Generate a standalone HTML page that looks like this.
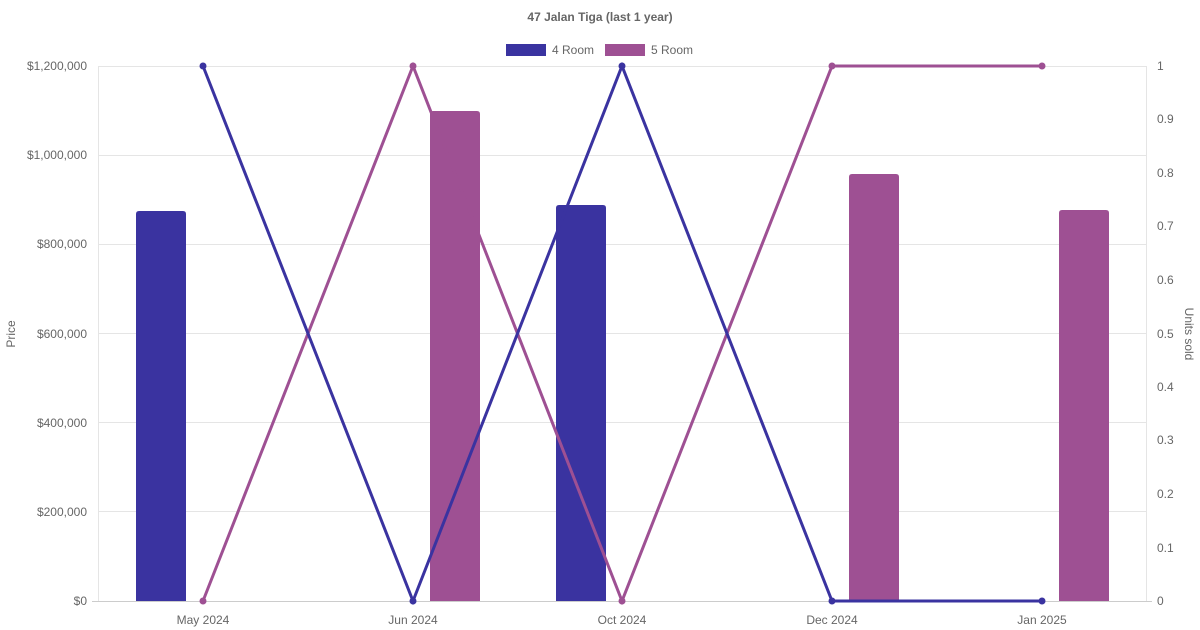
<!DOCTYPE html>
<html><head><meta charset="utf-8"><style>
html,body{margin:0;padding:0;background:#fff;}
svg{display:block;font-family:"Liberation Sans",sans-serif;}
</style></head><body>
<svg width="1200" height="630" viewBox="0 0 1200 630" xmlns="http://www.w3.org/2000/svg">
<text x="600" y="21" text-anchor="middle" font-size="12" font-weight="bold" fill="#666">47 Jalan Tiga (last 1 year)</text>
<rect x="506" y="44" width="40" height="12" fill="#3a33a0"/>
<text x="552" y="54" font-size="12" fill="#666">4 Room</text>
<rect x="605" y="44" width="40" height="12" fill="#9e5093"/>
<text x="651" y="54" font-size="12" fill="#666">5 Room</text>
<g stroke="#e5e5e5" stroke-width="1">
<line x1="98" y1="66.5" x2="1147" y2="66.5"/>
<line x1="98" y1="155.5" x2="1147" y2="155.5"/>
<line x1="98" y1="244.5" x2="1147" y2="244.5"/>
<line x1="98" y1="333.5" x2="1147" y2="333.5"/>
<line x1="98" y1="422.5" x2="1147" y2="422.5"/>
<line x1="98" y1="511.5" x2="1147" y2="511.5"/>
<line x1="98.5" y1="66" x2="98.5" y2="601"/>
<line x1="1146.5" y1="66" x2="1146.5" y2="601"/>
</g>
<line x1="92" y1="601.5" x2="1152" y2="601.5" stroke="#ccc"/>
<g font-size="12" fill="#666" text-anchor="end">
<text x="87" y="70">$1,200,000</text>
<text x="87" y="159">$1,000,000</text>
<text x="87" y="248">$800,000</text>
<text x="87" y="338">$600,000</text>
<text x="87" y="427">$400,000</text>
<text x="87" y="516">$200,000</text>
<text x="87" y="605">$0</text>
</g>
<g font-size="12" fill="#666">
<text x="1157" y="70">1</text>
<text x="1157" y="123">0.9</text>
<text x="1157" y="177">0.8</text>
<text x="1157" y="230">0.7</text>
<text x="1157" y="284">0.6</text>
<text x="1157" y="338">0.5</text>
<text x="1157" y="391">0.4</text>
<text x="1157" y="444">0.3</text>
<text x="1157" y="498">0.2</text>
<text x="1157" y="552">0.1</text>
<text x="1157" y="605">0</text>
</g>
<g font-size="12" fill="#666" text-anchor="middle">
<text x="203" y="624">May 2024</text>
<text x="413" y="624">Jun 2024</text>
<text x="622" y="624">Oct 2024</text>
<text x="832" y="624">Dec 2024</text>
<text x="1042" y="624">Jan 2025</text>
</g>
<text transform="translate(15,334) rotate(-90)" text-anchor="middle" font-size="12" fill="#666">Price</text>
<text transform="translate(1185,334) rotate(90)" text-anchor="middle" font-size="12" fill="#666">Units sold</text>
<path d="M136 601V214q0-3 3-3h44q3 0 3 3V601Z" fill="#3a33a0"/>
<path d="M556 601V208q0-3 3-3h44q3 0 3 3V601Z" fill="#3a33a0"/>
<path d="M430 601V114q0-3 3-3h44q3 0 3 3V601Z" fill="#9e5093"/>
<path d="M849 601V177q0-3 3-3h44q3 0 3 3V601Z" fill="#9e5093"/>
<path d="M1059 601V213q0-3 3-3h44q3 0 3 3V601Z" fill="#9e5093"/>
<polyline points="203,601 413,66 622,601 832,66 1042,66" fill="none" stroke="#9e5093" stroke-width="3"/>
<polyline points="203,66 413,601 622,66 832,601 1042,601" fill="none" stroke="#3a33a0" stroke-width="3"/>
<g fill="#9e5093"><circle cx="203" cy="601" r="3.5"/><circle cx="413" cy="66" r="3.5"/><circle cx="622" cy="601" r="3.5"/><circle cx="832" cy="66" r="3.5"/><circle cx="1042" cy="66" r="3.5"/></g>
<g fill="#3a33a0"><circle cx="203" cy="66" r="3.5"/><circle cx="413" cy="601" r="3.5"/><circle cx="622" cy="66" r="3.5"/><circle cx="832" cy="601" r="3.5"/><circle cx="1042" cy="601" r="3.5"/></g>
</svg>
</body></html>
